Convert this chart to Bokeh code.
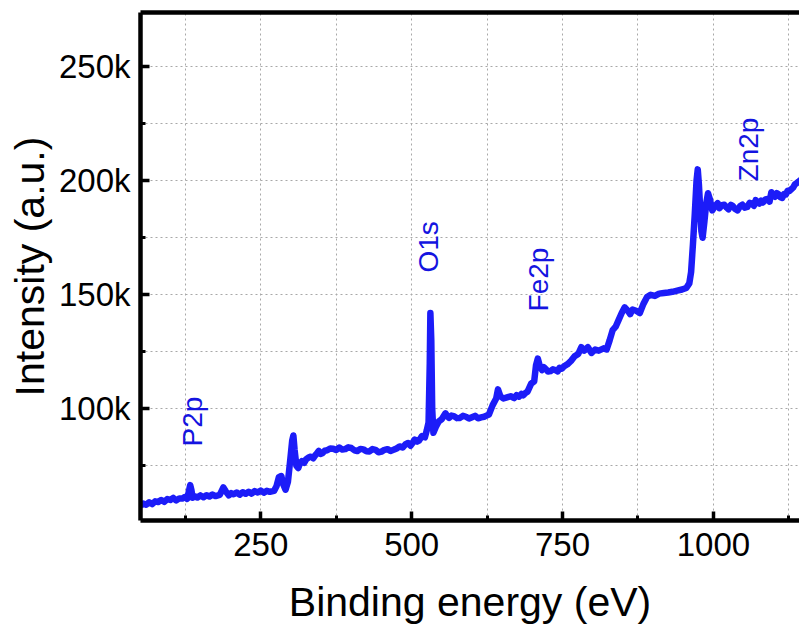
import numpy as np
from bokeh.plotting import figure
from bokeh.models import FixedTicker, LinearAxis, Range1d, ColumnDataSource
from bokeh.core.properties import value
from bokeh.embed import file_html
from bokeh.resources import INLINE

# Survey XPS spectrum (binding energy in eV, intensity in counts)
energy = [51, 55, 60, 65, 70, 75, 80, 85, 90, 95, 100, 105, 110, 115, 120, 124, 128, 131, 133,
          135, 137, 141, 145, 150, 155, 160, 165, 170, 175, 182,
          188, 192, 197, 201, 205, 210, 215, 220, 225, 230, 235, 240, 245, 250, 255, 260, 265,
          272, 276, 280, 284, 287, 291, 295,
          299, 302, 304, 306, 309, 312, 315, 318, 322, 325, 329, 333, 337, 340, 343, 346, 349,
          352, 356, 360, 365, 370, 375, 380, 385, 390, 395, 400, 405, 410, 415, 420, 425, 430,
          435, 440, 445, 450, 455, 460, 465, 470, 475, 480, 485, 490, 494, 498, 502, 505, 509,
          512, 517, 522, 525, 528, 530,
          531, 532.5, 534, 536, 540, 545, 550, 556, 559, 562, 566, 570, 575, 580, 585, 590, 595,
          600, 605, 610, 615, 620, 624, 628,
          634, 640, 643, 647, 652, 658, 664, 670, 674, 678, 682, 685, 689, 692, 698, 703, 706,
          709, 712, 716, 719, 722, 726, 730, 734, 738, 742, 745, 749, 752, 758, 764, 770, 776,
          781, 786, 792, 798, 804, 810, 818, 823,
          828, 833, 838, 843, 848, 853, 858, 862, 866, 872, 878, 884, 890, 896, 903, 910, 918,
          925, 932, 940, 948, 955, 960, 963, 966, 969, 972, 974, 976, 978, 980, 982, 985, 988,
          991, 994, 998, 1003, 1007, 1010, 1014, 1018, 1022, 1025, 1029, 1032, 1036, 1040, 1044,
          1048, 1052, 1056, 1060, 1064, 1067, 1070, 1073, 1076, 1079, 1082, 1086, 1090, 1093,
          1096, 1099, 1102, 1105, 1108, 1111, 1114, 1117, 1120, 1123, 1126, 1129, 1132, 1135,
          1138, 1141, 1145]
intensity = [57500, 58400, 57900, 59000, 58200, 59400, 59100, 60000, 59200, 60400, 60000, 60900,
             59800, 60700, 60600, 61300, 60500, 64000, 66500, 64500,
             61000, 61600, 61100, 62000, 61200, 62100, 61500, 62400, 61700, 62200, 65500, 63800,
             62000, 63000, 62500, 63300, 62300, 63400, 62700, 63600, 62800, 63900, 63300, 64100,
             63200, 64000, 63600, 64000, 66000, 70000, 70500, 67000, 64500, 68000, 78000,
             86000, 88300, 82000, 75000, 74000, 76200, 77000, 76300, 77800, 78600, 79000, 78300,
             79500, 80400, 81500, 80200, 80500, 81600, 81800, 82600, 82500, 81900, 83000, 82100,
             82300, 83100, 82800, 81800, 81500, 82400, 82200, 81400, 81300, 82300, 82000, 80900,
             81200, 82000, 82300, 81500, 82000, 82600, 83500, 83000, 84500, 85000, 83800, 85200,
             86500, 85600, 86000, 88000, 87500, 90500, 94000, 120000,
             142000, 130000, 100000, 89500, 92000, 94500, 95500, 98000, 96800, 96000, 97000,
             96800, 95900, 96000, 96900, 96500, 95700, 96300, 96900, 95800, 96200, 96500, 97000,
             97500, 101500, 104500, 108500, 105500, 104500, 105000, 105500, 104700, 106000,
             105300, 106500, 105900, 107000, 107500, 111000, 112000, 119000, 122000, 119000,
             117000, 118200, 117500, 116300, 116500, 117300, 117000, 116400, 118000, 117600,
             118500, 119500, 121000, 123000, 124000, 127000, 125500,
             127000, 124500, 126000, 125500, 126500, 126000, 130000, 134500, 136000, 139000,
             142000, 144500, 143000, 141500, 143500, 143000, 142000, 146000, 149000, 150000,
             149500, 150500, 150800, 151000, 151300, 151800, 152300, 153000, 155000, 160000,
             172000, 185000, 200000, 205000, 198000, 188000, 178000, 175000, 182000, 190000,
             194500, 192000, 187000, 189000, 190200, 188000, 189300, 189500, 188200, 187500,
             189400, 189000, 187600, 187000, 188800, 189500, 188200, 188500, 190300, 190000,
             189000, 191500, 190400, 190000, 191300, 190500, 191800, 192000, 190900, 195000,
             193600, 193000, 194600, 194000, 192800, 192500, 194200, 194000, 195600, 195500,
             196300, 197000, 198400, 199000, 199600, 200500]

peak_labels = ["P2p", "O1s", "Fe2p", "Zn2p"]
peak_x = [137, 528, 710, 1058]
peak_y = [94400, 171000, 156700, 213700]

x_major = [250, 500, 750, 1000]
x_minor = [125, 375, 625, 875, 1125]
y_major = [100000, 150000, 200000, 250000]
y_minor = [75000, 125000, 175000, 225000]
y_labels = ["100k", "150k", "200k", "250k"]

FONT = "Liberation Sans"
LINE_BLUE = "#1c1cf8"
TEXT_BLUE = "#1414e0"

p = figure(width=799, height=632, output_backend="svg", toolbar_location=None,
           x_range=Range1d(50.7, 1142.6), y_range=Range1d(51000, 273800),
           min_border_left=140, min_border_right=0, min_border_top=12, min_border_bottom=112,
           x_axis_label="Binding energy (eV)", y_axis_label="Intensity (a.u.)")
p.outline_line_color = None
p.background_fill_color = "white"
p.border_fill_color = "white"

src = ColumnDataSource(dict(x=energy, y=intensity))
p.line("x", "y", source=src, line_color=LINE_BLUE, line_width=6.5, line_join="round")

tsrc = ColumnDataSource(dict(x=peak_x, y=peak_y, t=peak_labels))
p.text("x", "y", text="t", source=tsrc, angle=np.pi / 2, text_align="center",
       text_baseline="middle", text_color=TEXT_BLUE, text_font=value(FONT),
       text_font_size="28px")

p.xaxis.ticker = FixedTicker(ticks=x_major, minor_ticks=x_minor)
p.yaxis.ticker = FixedTicker(ticks=y_major, minor_ticks=y_minor)
p.yaxis.major_label_overrides = {v: s for v, s in zip(y_major, y_labels)}

for ax in (p.xaxis[0], p.yaxis[0]):
    ax.axis_line_width = 4.5
    ax.axis_line_color = "black"
    ax.major_tick_in = 9
    ax.major_tick_out = 0
    ax.minor_tick_in = 5
    ax.minor_tick_out = 0
    ax.major_tick_line_width = 3.5
    ax.minor_tick_line_width = 3
    ax.major_label_text_font = FONT
    ax.major_label_text_font_size = "33px"
    ax.major_label_text_color = "black"
    ax.axis_label_text_font = FONT
    ax.axis_label_text_font_size = "41px"
    ax.axis_label_text_font_style = "normal"
    ax.axis_label_text_color = "black"
p.xaxis.major_label_standoff = 12
p.yaxis.major_label_standoff = 10
p.xaxis.axis_label_standoff = 20
p.yaxis.axis_label_standoff = 3

top = LinearAxis(ticker=FixedTicker(ticks=[]), axis_line_width=4.5, axis_line_color="black",
                 major_label_text_font_size="0px", major_tick_line_color=None,
                 minor_tick_line_color=None, major_label_standoff=0)
p.add_layout(top, "above")

for g in (p.xgrid[0], p.ygrid[0]):
    g.grid_line_color = "#a8a8a8"
    g.grid_line_dash = "2 3"
    g.grid_line_width = 1
    g.minor_grid_line_color = "#a8a8a8"
    g.minor_grid_line_dash = "2 3"
    g.minor_grid_line_width = 1

open("out.html", "w").write(file_html(p, INLINE))
